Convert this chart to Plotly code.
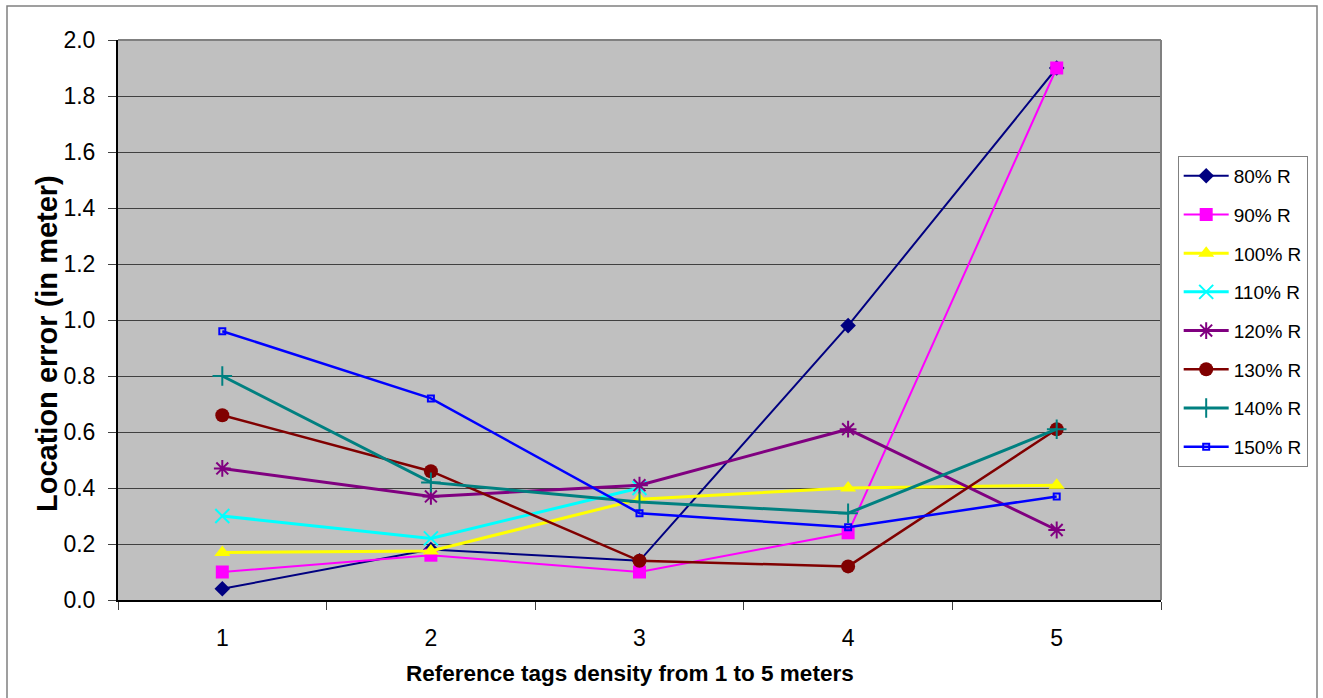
import plotly.graph_objects as go

categories = ["1", "2", "3", "4", "5"]
series_names = ["80% R", "90% R", "100% R", "110% R", "120% R", "130% R", "140% R", "150% R"]
r80 = [0.04, 0.18, 0.14, 0.98, 1.90]
r90 = [0.10, 0.16, 0.10, 0.24, 1.90]
r100 = [0.17, 0.175, 0.36, 0.40, 0.41]
r110 = [0.30, 0.22, 0.40, None, None]
r120 = [0.47, 0.37, 0.41, 0.61, 0.25]
r130 = [0.66, 0.46, 0.14, 0.12, 0.61]
r140 = [0.80, 0.42, 0.35, 0.31, 0.61]
r150 = [0.96, 0.72, 0.31, 0.26, 0.37]
y_ticks = [0.0, 0.2, 0.4, 0.6, 0.8, 1.0, 1.2, 1.4, 1.6, 1.8, 2.0]

values = [r80, r90, r100, r110, r120, r130, r140, r150]
colors = ["#000080", "#FF00FF", "#FFFF00", "#00FFFF", "#800080", "#800000", "#008080", "#0000FF"]
symbols = ["diamond", "square", "triangle-up", "x-thin", "asterisk", "circle", "cross-thin", "square-open"]
sizes = [12, 13, 14, 14, 14, 14, 14, 6]
line_widths = [2, 2, 3, 3, 3, 2.5, 3, 2.5]

fig = go.Figure()
for i, (name, vals, c, s, sz, lw) in enumerate(zip(series_names, values, colors, symbols, sizes, line_widths)):
    marker = dict(symbol=s, size=sz, color=c)
    if s in ("x-thin", "asterisk", "cross-thin", "square-open"):
        marker["line"] = dict(color=c, width=2)
    fig.add_trace(go.Scatter(
        x=categories, y=vals, name=name, mode="lines+markers", legendgroup=f"g{i}",
        line=dict(color=c, width=lw), marker=marker, connectgaps=False,
    ))

fig.update_layout(
    width=1323, height=698,
    margin=dict(l=118, r=162, t=40, b=98),
    paper_bgcolor="white",
    plot_bgcolor="#C0C0C0",
    font=dict(family="Liberation Sans, Arial, sans-serif", color="black"),
    legend=dict(
        x=1.016, y=0.793, xanchor="left", yanchor="top",
        bgcolor="white", bordercolor="#808080", borderwidth=1,
        font=dict(size=19), tracegroupgap=11, itemwidth=45,
    ),
    showlegend=True,
)
fig.update_xaxes(
    type="category", range=[-0.5, 4.5], tickson="boundaries", ticks="outside", ticklen=8,
    tickcolor="#404040", showgrid=False, showline=True, linecolor="black", linewidth=2,
    tickfont=dict(size=23), mirror=False, zeroline=False, ticklabelstandoff=16,
)
fig.update_yaxes(
    range=[0, 2.0], tickvals=y_ticks, tickformat=".1f", ticks="outside", ticklen=8,
    tickcolor="#404040", showgrid=True, gridcolor="#404040", gridwidth=1,
    showline=True, linecolor="black", linewidth=2, zeroline=False,
    tickfont=dict(size=23), ticklabelstandoff=8,
)
# axis titles as annotations, placed like the reference
fig.add_annotation(text="<b>Reference tags density from 1 to 5 meters</b>",
                   xref="paper", yref="paper", x=(630 - 118) / 1043, y=(600 - 673) / 560,
                   xanchor="center", yanchor="middle", showarrow=False, font=dict(size=22.5))
fig.add_annotation(text="<b>Location error (in meter)</b>", textangle=-90,
                   xref="paper", yref="paper", x=(47 - 118) / 1043, y=(600 - 344) / 560,
                   xanchor="center", yanchor="middle", showarrow=False, font=dict(size=29))
# gray top/right frame of plot area
fig.add_shape(type="line", xref="paper", yref="paper", x0=0, x1=1, y0=1, y1=1,
              line=dict(color="#808080", width=2))
fig.add_shape(type="line", xref="paper", yref="paper", x0=1, x1=1, y0=0, y1=1,
              line=dict(color="#808080", width=2))
# outer chart border
fig.add_shape(type="rect", xref="paper", yref="paper",
              x0=(7 - 118) / 1043, x1=(1317 - 118) / 1043,
              y0=(600 - 705) / 560, y1=(600 - 6) / 560,
              line=dict(color="#808080", width=1.5), layer="below")

fig.write_html("out.html")
